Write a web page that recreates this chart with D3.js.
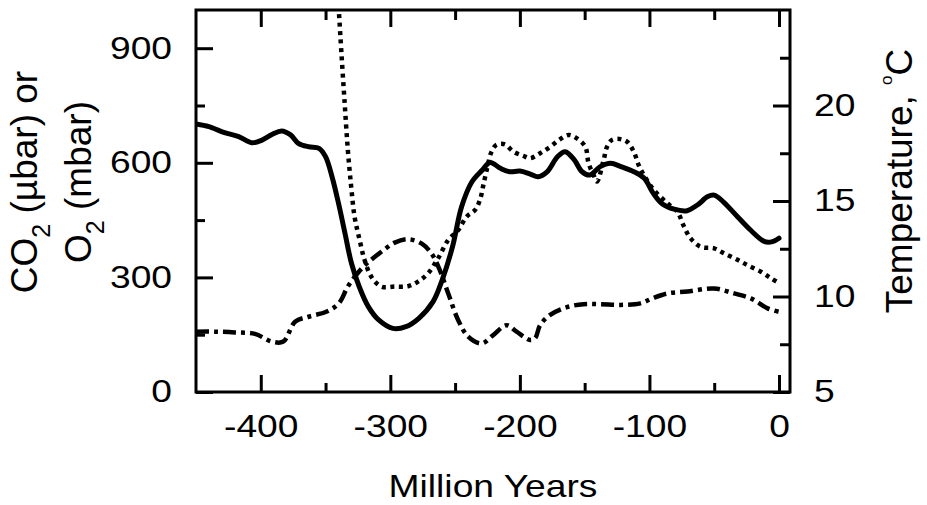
<!DOCTYPE html>
<html>
<head>
<meta charset="utf-8">
<script src="https://cdn.jsdelivr.net/npm/d3@7"></script>
<style>
body { margin: 0; background: #fff; }
.axis line { stroke: #000; stroke-width: 3; }
.axis path { display: none; }
.axis text { font-family: "Liberation Sans", Arial, sans-serif; font-size: 31px; fill: #000; }
.title { font-family: "Liberation Sans", Arial, sans-serif; fill: #000; }
</style>
</head>
<body>
<svg class="chart" width="927" height="505"></svg>
<script>
// temperature (solid line, right axis)
const tempYears = [-450, -440, -428, -417, -407, -399, -391, -384, -377, -371, -363, -355, -350, -345, -340, -335, -330, -324, -317, -309, -298, -288, -278, -267, -260, -252, -245, -237, -229, -223, -215, -208, -200, -192, -186, -179, -171, -165, -158, -152, -146, -138, -130, -122, -112, -104, -97, -90, -81, -71, -63, -55, -50, -43, -32, -22, -11, -5, 0];
const tempValues = [19.03, 18.89, 18.58, 18.37, 18.05, 18.19, 18.49, 18.66, 18.46, 18.02, 17.84, 17.76, 17.32, 16.27, 14.88, 13.31, 11.74, 10.51, 9.47, 8.77, 8.33, 8.42, 8.86, 9.73, 10.86, 12.61, 14.70, 16.01, 16.62, 17.02, 16.71, 16.53, 16.57, 16.41, 16.27, 16.53, 17.32, 17.58, 17.15, 16.53, 16.36, 16.80, 16.97, 16.80, 16.53, 16.19, 15.40, 14.84, 14.57, 14.49, 14.79, 15.23, 15.31, 14.96, 14.18, 13.48, 12.87, 12.87, 13.05];

// CO2 in ubar (dotted line, left axis)
const co2Years = [-342, -339.8, -337.9, -335.4, -332.8, -330.2, -327.6, -323.7, -319.9, -314.7, -307, -296.6, -286.3, -278.6, -270.8, -263.1, -255.3, -247.6, -241.1, -234.7, -230.8, -228, -225, -222, -218, -211.5, -205, -197.3, -192.1, -184.4, -176.6, -168.9, -162.4, -156, -149.5, -147, -143.1, -140.5, -135.4, -132.7, -128.8, -122.4, -117.2, -112.1, -108.3, -104.3, -96.6, -86.2, -78.5, -73.3, -68.2, -60.4, -50.1, -42.4, -32, -24.3, -14, -6.2, 0];
const co2Values = [1100, 1000, 895, 764, 634, 537, 459, 398, 346, 302, 276, 276, 277, 289, 311, 350, 398, 424, 459, 476, 503, 545, 590, 628, 647, 648, 629, 618, 612, 625, 642, 662, 673, 664, 642, 599, 568, 551, 607, 642, 660, 662, 655, 629, 594, 568, 529, 494, 472, 433, 402, 380, 376, 363, 346, 332, 315, 298, 285];

// O2 in mbar (dash-dot line, left axis)
const o2Years = [-450, -435.4, -420, -404.5, -391.5, -382.6, -373.5, -363.2, -349.5, -339.8, -332.8, -324.3, -316.6, -306.9, -296.6, -286.3, -276, -268.3, -261.8, -255.3, -247.6, -239.9, -229.6, -220.6, -210.3, -202.6, -192.1, -188.2, -184.4, -176.6, -163.7, -150.9, -138, -122.4, -107, -97.9, -86.2, -70.7, -50.1, -34.6, -21.7, -8.8, 0];
const o2Values = [158, 158, 156, 152, 132, 132, 184, 197, 210, 232, 276, 315, 341, 367, 391, 400, 389, 363, 319, 258, 188, 145, 127, 149, 175, 158, 136, 141, 175, 202, 222, 230, 230, 228, 232, 245, 258, 263, 271, 258, 245, 219, 210];

const xMajor = [-400, -300, -200, -100, 0];
const xMinor = [-350, -250, -150, -50];
const leftMajor = [0, 300, 600, 900];
const leftMinor = [150, 450, 750];
const rightMajor = [5, 10, 15, 20];
const rightMinor = [7.5, 12.5, 17.5, 22.5];

let plotLeft = 196, plotRight = 790, plotTop = 10, plotBottom = 392;
let stretch = 1.2; // the original type is a bit wide

var svg = d3.select(".chart");

let x = d3.scaleLinear().domain([-450, 8.5]).range([plotLeft, plotRight]);
let yL = d3.scaleLinear().domain([0, 1000]).range([plotBottom, plotTop]);
let yR = d3.scaleLinear().domain([5, 25]).range([plotBottom, plotTop]);

svg.append("clipPath").attr("id", "plot")
  .append("rect")
    .attr("x", plotLeft).attr("y", plotTop)
    .attr("width", plotRight - plotLeft).attr("height", plotBottom - plotTop);

// curves
let lineL = d3.line().x(d => x(d[0])).y(d => yL(d[1])).curve(d3.curveCatmullRom);
let lineR = d3.line().x(d => x(d[0])).y(d => yR(d[1])).curve(d3.curveCatmullRom);

let g = svg.append("g").attr("clip-path", "url(#plot)");

g.append("path")
  .datum(d3.zip(o2Years, o2Values))
  .attr("d", lineL)
  .attr("fill", "none")
  .attr("stroke", "#000")
  .attr("stroke-width", 4.5)
  .attr("stroke-dasharray", "13,5,4,5");

g.append("path")
  .datum(d3.zip(co2Years, co2Values))
  .attr("d", lineL)
  .attr("fill", "none")
  .attr("stroke", "#000")
  .attr("stroke-width", 4.5)
  .attr("stroke-dasharray", "4,4.5");

g.append("path")
  .datum(d3.zip(tempYears, tempValues))
  .attr("d", lineR)
  .attr("fill", "none")
  .attr("stroke", "#000")
  .attr("stroke-width", 5)
  .attr("stroke-linejoin", "round")
  .attr("stroke-linecap", "round");

// axes, ticks point inward
function addAxis(axis, tx, ty, labels) {
    let a = svg.append("g").attr("class", "axis")
        .attr("transform", "translate(" + tx + "," + ty + ")")
        .call(axis);
    if (!labels) a.selectAll("text").remove();
    return a;
}

let fmt = d => String(d);

let bx = addAxis(d3.axisBottom(x).tickValues(xMajor).tickSize(-17).tickSizeOuter(0).tickPadding(23).tickFormat(fmt), 0, plotBottom, true);
bx.selectAll("text").attr("transform", "scale(" + stretch + ",1)");
addAxis(d3.axisBottom(x).tickValues(xMinor).tickSize(-9).tickSizeOuter(0), 0, plotBottom, false);
addAxis(d3.axisTop(x).tickValues(xMajor).tickSize(-17).tickSizeOuter(0), 0, plotTop, false);
addAxis(d3.axisTop(x).tickValues(xMinor).tickSize(-10).tickSizeOuter(0), 0, plotTop, false);

let ly = addAxis(d3.axisLeft(yL).tickValues(leftMajor).tickSize(-17).tickSizeOuter(0).tickFormat(fmt), plotLeft, 0, true);
ly.selectAll("text").attr("x", -24 / stretch).attr("transform", "scale(" + stretch + ",1)");
addAxis(d3.axisLeft(yL).tickValues(leftMinor).tickSize(-9).tickSizeOuter(0), plotLeft, 0, false);

let ry = addAxis(d3.axisRight(yR).tickValues(rightMajor).tickSize(-17).tickSizeOuter(0).tickFormat(fmt), plotRight, 0, true);
ry.selectAll("text").attr("x", 24 / stretch).attr("transform", "scale(" + stretch + ",1)");
addAxis(d3.axisRight(yR).tickValues(rightMinor).tickSize(-10).tickSizeOuter(0), plotRight, 0, false);

// frame
svg.append("rect")
  .attr("x", plotLeft).attr("y", plotTop)
  .attr("width", plotRight - plotLeft).attr("height", plotBottom - plotTop)
  .attr("fill", "none")
  .attr("stroke", "#000")
  .attr("stroke-width", 3);

// titles
svg.append("text")
  .attr("class", "title")
  .attr("font-size", 31)
  .attr("text-anchor", "middle")
  .attr("transform", "translate(" + (plotLeft + plotRight) / 2 + ",497) scale(" + stretch + ",1)")
  .text("Million Years");

let t1 = svg.append("text")
  .attr("class", "title")
  .attr("font-size", 37)
  .attr("text-anchor", "middle")
  .attr("transform", "translate(37,182) rotate(-90)");
t1.append("tspan").text("CO");
t1.append("tspan").attr("font-size", 25).attr("dy", 13).text("2");
t1.append("tspan").attr("dy", -13).text(" (\u00b5bar) or");

let t2 = svg.append("text")
  .attr("class", "title")
  .attr("font-size", 37)
  .attr("text-anchor", "middle")
  .attr("transform", "translate(91,182) rotate(-90)");
t2.append("tspan").text("O");
t2.append("tspan").attr("font-size", 25).attr("dy", 13).text("2");
t2.append("tspan").attr("dy", -13).text(" (mbar)");

let t3 = svg.append("text")
  .attr("class", "title")
  .attr("font-size", 37)
  .attr("text-anchor", "middle")
  .attr("transform", "translate(912,181) rotate(-90)");
t3.append("tspan").text("Temperature, ");
t3.append("tspan").attr("font-size", 17).attr("dy", -20).text("o");
t3.append("tspan").attr("dy", 20).text("C");
</script>
</body>
</html>
